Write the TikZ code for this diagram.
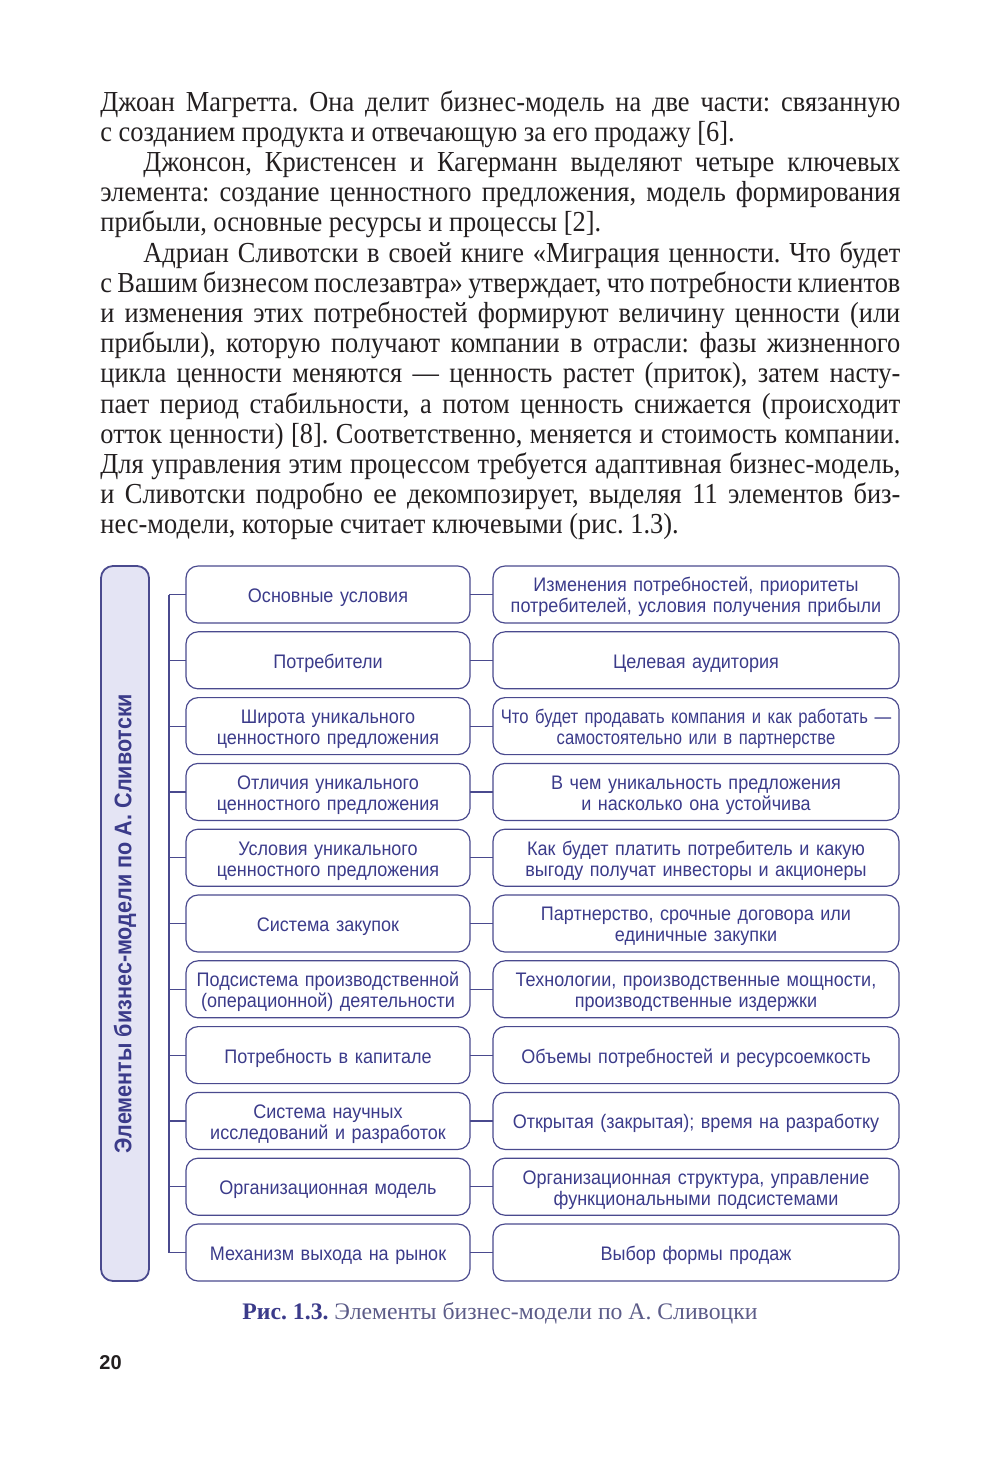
\documentclass[tikz,border=0pt]{standalone}
\usepackage{fontspec}
\setmainfont{Liberation Serif}
\setsansfont{Liberation Sans}
\newfontfamily\bodyserif[FakeStretch=0.91]{Liberation Serif}
\newfontfamily\boxsans[FakeStretch=0.92]{Liberation Sans}
\newfontfamily\boxnarrow[FakeStretch=0.85]{Liberation Sans}
\newfontfamily\barsans[FakeStretch=0.9]{Liberation Sans}
\usetikzlibrary{positioning}
\definecolor{ink}{HTML}{3B3B8A}
\definecolor{frame}{HTML}{4A4A8E}
\definecolor{barfill}{HTML}{E4E4F4}
\definecolor{capgray}{HTML}{5C5C88}
\definecolor{bodyink}{HTML}{231F20}
\frenchspacing

\begin{document}
\begin{tikzpicture}[x=0.5pt,y=-0.5pt,node distance=4.4pt and 11.5pt]
\tikzset{
  elem/.style={draw=frame,line width=0.6pt,rounded corners=6pt,outer sep=0pt,align=center,minimum height=28.5pt,minimum width=142pt,text width=138pt,text height=10pt,inner sep=0pt,font=\boxsans\fontsize{9.8}{10.5}\selectfont,text=ink},
  descr/.style={elem,minimum width=203pt,text width=199pt},
  bar/.style={draw=frame,line width=0.9pt,rounded corners=6pt,fill=barfill,rotate=90,minimum width=357.5pt,minimum height=24pt,inner sep=0pt,font=\barsans\bfseries\fontsize{12}{14}\selectfont,text=ink},
  link/.style={draw=frame,line width=0.6pt}
}
\useasboundingbox (0,0) rectangle (1000,1464);
% text above the figure
\node(body)[anchor=north west,text width=400pt,inner sep=0pt,align=justify,text=bodyink,font=\bodyserif\fontsize{14.5}{15.1}\selectfont] at (100,90) {\hyphenpenalty=10000 Джоан Магретта. Она делит бизнес-модель на две части: связанную\linebreak с созданием продукта и отвечающую за его продажу [6].\par
\hspace*{21.5pt}Джонсон, Кристенсен и Кагерманн выделяют четыре ключевых\linebreak элемента: создание ценностного предложения, модель формирования\linebreak прибыли, основные ресурсы и процессы [2].\par
\hspace*{21.5pt}Адриан Сливотски в своей книге «Миграция ценности. Что будет\linebreak с Вашим бизнесом послезавтра» утверждает, что потребности клиентов\linebreak и изменения этих потребностей формируют величину ценности (или\linebreak прибыли), которую получают компании в отрасли: фазы жизненного\linebreak цикла ценности меняются — ценность растет (приток), затем насту-\linebreak пает период стабильности, а потом ценность снижается (происходит\linebreak отток ценности) [8]. Соответственно, меняется и стоимость компании.\linebreak Для управления этим процессом требуется адаптивная бизнес-модель,\linebreak и Сливотски подробно ее декомпозирует, выделяя 11 элементов биз-\linebreak нес-модели, которые считает ключевыми (рис. 1.3).\par};
% figure
\node(bar)[bar] at (125,923.5) {Элементы бизнес-модели по А. Сливотски};
\node(l1)[elem] at (328,594.5) {Основные условия};
\node(l2)[elem,below=of l1] {Потребители};
\node(l3)[elem,below=of l2] {Широта уникального\\ценностного предложения};
\node(l4)[elem,below=of l3] {Отличия уникального\\ценностного предложения};
\node(l5)[elem,below=of l4] {Условия уникального\\ценностного предложения};
\node(l6)[elem,below=of l5] {Система закупок};
\node(l7)[elem,below=of l6] {Подсистема производственной\\(операционной) деятельности};
\node(l8)[elem,below=of l7] {Потребность в капитале};
\node(l9)[elem,below=of l8] {Система научных\\исследований и разработок};
\node(l10)[elem,below=of l9] {Организационная модель};
\node(l11)[elem,below=of l10] {Механизм выхода на рынок};
\node(r1)[descr,right=of l1] {Изменения потребностей, приоритеты\\потребителей, условия получения прибыли};
\node(r2)[descr,right=of l2] {Целевая аудитория};
\node(r3)[descr,right=of l3,font=\boxnarrow\fontsize{9.8}{10.5}\selectfont] {Что будет продавать компания и как работать —\\самостоятельно или в партнерстве};
\node(r4)[descr,right=of l4] {В чем уникальность предложения\\и насколько она устойчива};
\node(r5)[descr,right=of l5] {Как будет платить потребитель и какую\\выгоду получат инвесторы и акционеры};
\node(r6)[descr,right=of l6] {Партнерство, срочные договора или\\единичные закупки};
\node(r7)[descr,right=of l7] {Технологии, производственные мощности,\\производственные издержки};
\node(r8)[descr,right=of l8] {Объемы потребностей и ресурсоемкость};
\node(r9)[descr,right=of l9] {Открытая (закрытая); время на разработку};
\node(r10)[descr,right=of l10] {Организационная структура, управление\\функциональными подсистемами};
\node(r11)[descr,right=of l11] {Выбор формы продаж};
\coordinate(trunkN) at ([xshift=-8.5pt]l1.west);
\coordinate(trunkS) at ([xshift=-8.5pt]l11.west);
\draw[link](trunkN)--(trunkS);
\draw[link](l1.west)--(l1.west-|trunkN); \draw[link](l2.west)--(l2.west-|trunkN);
\draw[link](l3.west)--(l3.west-|trunkN); \draw[link](l4.west)--(l4.west-|trunkN);
\draw[link](l5.west)--(l5.west-|trunkN); \draw[link](l6.west)--(l6.west-|trunkN);
\draw[link](l7.west)--(l7.west-|trunkN); \draw[link](l8.west)--(l8.west-|trunkN);
\draw[link](l9.west)--(l9.west-|trunkN); \draw[link](l10.west)--(l10.west-|trunkN);
\draw[link](l11.west)--(l11.west-|trunkN);
\draw[link](l1)--(r1); \draw[link](l2)--(r2); \draw[link](l3)--(r3); \draw[link](l4)--(r4);
\draw[link](l5)--(r5); \draw[link](l6)--(r6); \draw[link](l7)--(r7); \draw[link](l8)--(r8);
\draw[link](l9)--(r9); \draw[link](l10)--(r10); \draw[link](l11)--(r11);
\node(cap)[font=\fontsize{11.85}{14}\selectfont] at (500,1313) {\textcolor{ink}{\textbf{Рис. 1.3.}} \textcolor{capgray}{Элементы бизнес-модели по А. Сливоцки}};
\node(pnum)[anchor=west,inner sep=0pt,font=\sffamily\bfseries\fontsize{10}{12}\selectfont,text=bodyink] at (99,1363) {20};
\end{tikzpicture}
\end{document}
